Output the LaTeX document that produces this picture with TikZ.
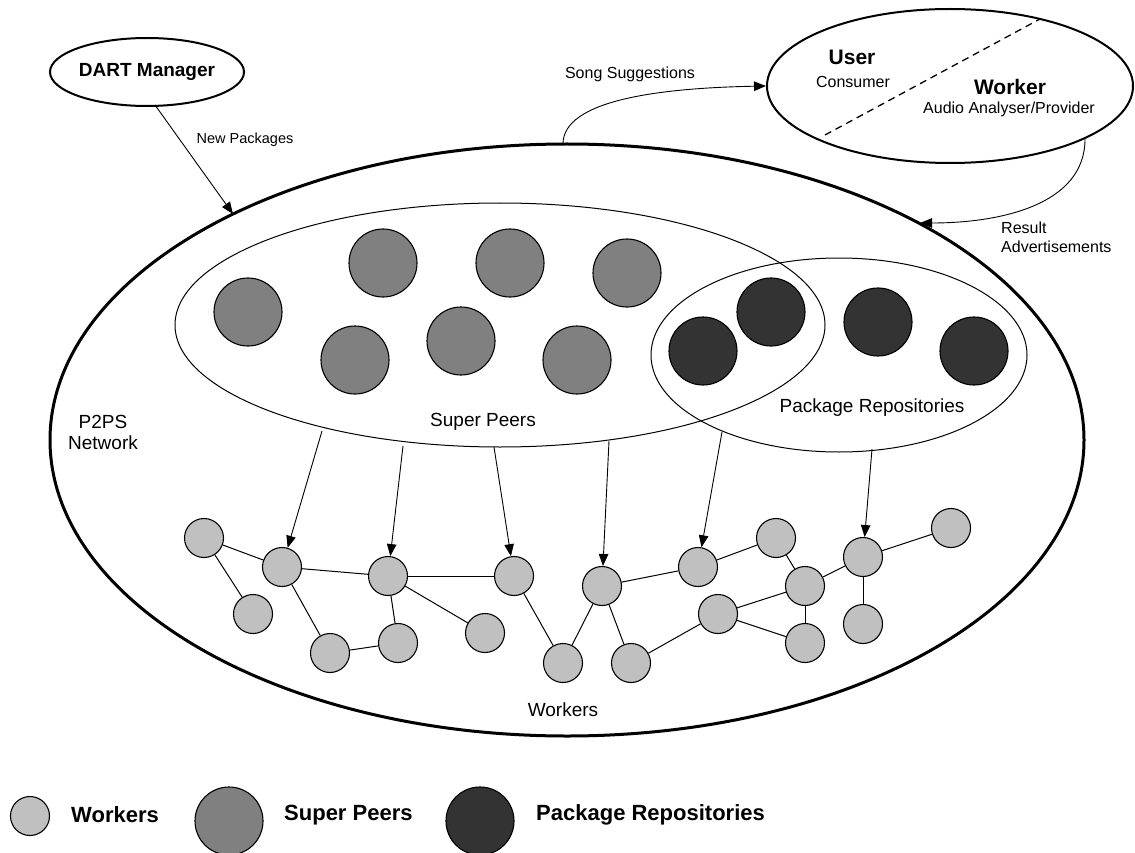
\documentclass[tikz,border=0pt]{standalone}
\usepackage{fontspec}
\setmainfont{Liberation Sans}
\usetikzlibrary{shapes.geometric,arrows.meta}
\definecolor{wkc}{HTML}{C0C0C0}
\definecolor{spc}{HTML}{808080}
\definecolor{prc}{HTML}{333333}
\begin{document}
\begin{tikzpicture}[x=1pt,y=-1pt,
  wnode/.style={circle,draw,fill=wkc,line width=1.1pt,minimum size=39pt,inner sep=0pt},
  spnode/.style={circle,draw,fill=spc,line width=1.1pt,minimum size=68pt,inner sep=0pt},
  prnode/.style={circle,draw,fill=prc,line width=1.1pt,minimum size=68pt,inner sep=0pt},
  link/.style={line width=1pt},
  arr/.style={line width=0.9pt,-{Triangle[length=12pt,width=9.5pt]}},
  region/.style={ellipse,draw,line width=1pt,inner sep=0pt},
  lbl/.style={inner sep=0pt,font=\fontsize{19}{21}\selectfont},
  small/.style={inner sep=0pt,font=\fontsize{16}{19}\selectfont},
  head/.style={inner sep=0pt,font=\fontsize{21}{24}\selectfont\bfseries},
  legend/.style={inner sep=0pt,anchor=west,font=\fontsize{22}{24}\selectfont\bfseries}]
\useasboundingbox (0,0) rectangle (1135,853);

% big regions
\node[ellipse,draw,line width=3pt,minimum width=1034pt,minimum height=592pt,inner sep=0pt] (net) at (567,440) {};
\node[region,minimum width=650pt,minimum height=244pt] (sp) at (500,325) {};
\node[region,minimum width=376pt,minimum height=194pt] (pr) at (839,355) {};
\node[ellipse,draw,line width=2pt,minimum width=194pt,minimum height=68pt,inner sep=0pt,font=\fontsize{19}{22}\selectfont\bfseries] (dart) at (147,72) {DART Manager};
\node[ellipse,draw,line width=2pt,minimum width=366pt,minimum height=154pt,inner sep=0pt] (uw) at (950,86) {};

% user/worker contents
\coordinate (dd1) at (825,135);
\coordinate (dd2) at (1040,19);
\draw[line width=1.3pt,dash pattern=on 7pt off 5pt] (dd1) -- (dd2);
\node[head] (user) at (852,57) {User};
\node[small] (cons) at (853,82) {Consumer};
\node[head] (wk) at (1010,87) {Worker};
\node[small] (aap) at (1009,109) {Audio Analyser/Provider};

% super peers
\node[spnode] (s1) at (248,312) {};
\node[spnode] (s2) at (383,263) {};
\node[spnode] (s3) at (510,263) {};
\node[spnode] (s4) at (627,273) {};
\node[spnode] (s5) at (355,360) {};
\node[spnode] (s6) at (461,341) {};
\node[spnode] (s7) at (577,360) {};

% package repositories
\node[prnode] (p1) at (703,351) {};
\node[prnode] (p2) at (771,312) {};
\node[prnode] (p3) at (878,322) {};
\node[prnode] (p4) at (974,351) {};

% workers
\node[wnode] (w1) at (204,538) {};
\node[wnode] (w2) at (282,567) {};
\node[wnode] (w3) at (253,614) {};
\node[wnode] (w4) at (388,576) {};
\node[wnode] (w5) at (330,653) {};
\node[wnode] (w6) at (398,643) {};
\node[wnode] (w7) at (485,633) {};
\node[wnode] (w8) at (514,576) {};
\node[wnode] (w9) at (563,663) {};
\node[wnode] (w10) at (602,586) {};
\node[wnode] (w11) at (631,663) {};
\node[wnode] (w12) at (698,567) {};
\node[wnode] (w13) at (776,538) {};
\node[wnode] (w14) at (805,586) {};
\node[wnode] (w15) at (718,614) {};
\node[wnode] (w16) at (805,643) {};
\node[wnode] (w17) at (863,557) {};
\node[wnode] (w18) at (951,528) {};
\node[wnode] (w19) at (863,624) {};

\foreach \a/\b in {w1/w2,w1/w3,w2/w4,w2/w5,w4/w8,w4/w6,w4/w7,w5/w6,w8/w9,
  w10/w9,w10/w11,w10/w12,w12/w13,w13/w14,w14/w17,w14/w15,w14/w16,w15/w11,
  w15/w16,w17/w18,w17/w19}
  \draw[link] (\a) -- (\b);

% arrows down to workers
\coordinate (a1) at (322,431);
\coordinate (a2) at (403,446);
\coordinate (a3) at (494,447);
\coordinate (a4) at (609,441);
\coordinate (a5) at (722,432);
\coordinate (a6) at (872,449);
\draw[arr] (a1) -- (w2);
\draw[arr] (a2) -- (w4);
\draw[arr] (a3) -- (w8);
\draw[arr] (a4) -- (w10);
\draw[arr] (a5) -- (w12);
\draw[arr] (a6) -- (w17);

% outer arrows
\coordinate (d0) at (155,105);
\coordinate (n1) at (233,214);
\draw[arr] (d0) -- (n1);
\node[inner sep=0pt,font=\fontsize{14.5}{17}\selectfont] (np) at (245,140) {New Packages};

\coordinate (s0) at (563,144);
\draw[arr] (s0) .. controls (563,100) and (660,88) .. (uw.west);
\node[small] (ss) at (630,74) {Song Suggestions};

\coordinate (r0) at (1085,139);
\coordinate (r1) at (920,223);
\draw[arr] (r0) .. controls (1085,205) and (1000,223) .. (r1);
\node[small,anchor=west,align=left] (ra) at (1001,237) {Result\\Advertisements};

% region labels
\node[lbl,align=center] (p2ps) at (103,432) {P2PS\\Network};
\node[lbl] (splbl) at (483,422) {Super Peers};
\node[lbl] (prlbl) at (872,408) {Package Repositories};
\node[lbl] (wlbl) at (563,710) {Workers};

% legend
\node[wnode] (lw) at (30,816) {};
\node[legend] (lwt) at (71,815) {Workers};
\node[spnode] (lsp) at (229,821) {};
\node[legend] (lspt) at (284,815) {Super Peers};
\node[prnode] (lpr) at (480,821) {};
\node[legend] (lprt) at (536,815) {Package Repositories};
\end{tikzpicture}
\end{document}
